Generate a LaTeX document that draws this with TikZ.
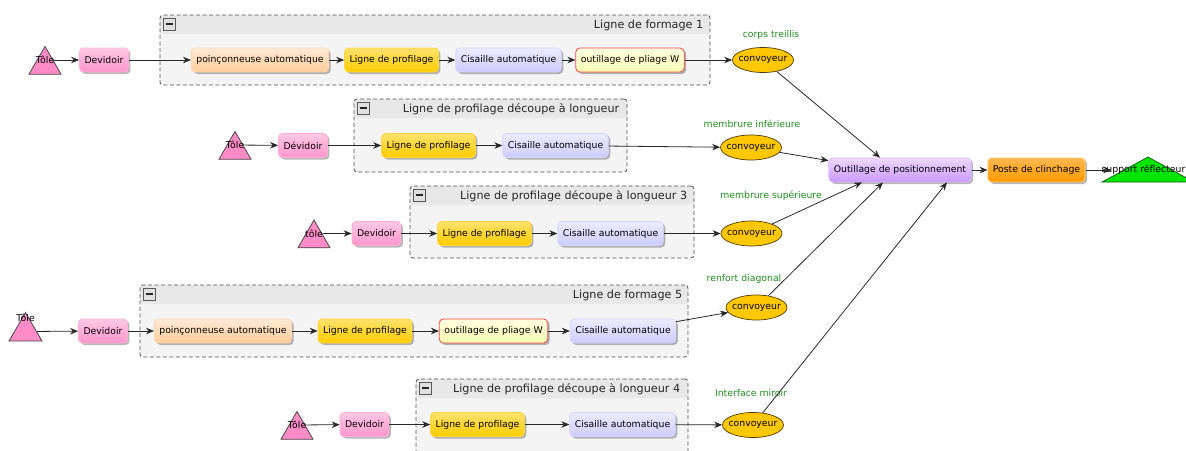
\documentclass[tikz,border=0pt]{standalone}
\usepackage{fontspec}
\setmainfont{DejaVu Sans}
\usetikzlibrary{shapes.geometric,arrows.meta,shadows}

\definecolor{edgec}{RGB}{40,40,40}
\definecolor{pinkT}{RGB}{255,200,228}
\definecolor{pinkF}{RGB}{255,150,204}
\definecolor{pinkB}{RGB}{255,176,214}
\definecolor{peachT}{RGB}{255,234,214}
\definecolor{peachF}{RGB}{255,204,153}
\definecolor{peachB}{RGB}{255,214,178}
\definecolor{goldT}{RGB}{255,226,110}
\definecolor{goldF}{RGB}{255,204,0}
\definecolor{goldB}{RGB}{255,214,60}
\definecolor{lavT}{RGB}{236,236,255}
\definecolor{lavF}{RGB}{204,204,255}
\definecolor{lavB}{RGB}{212,212,255}
\definecolor{wT}{RGB}{255,255,225}
\definecolor{wF}{RGB}{255,255,180}
\definecolor{wB}{RGB}{250,70,70}
\definecolor{purT}{RGB}{236,216,255}
\definecolor{purF}{RGB}{204,153,255}
\definecolor{purB}{RGB}{216,184,255}
\definecolor{orT}{RGB}{255,184,80}
\definecolor{orF}{RGB}{255,153,0}
\definecolor{orB}{RGB}{255,196,100}
\definecolor{convF}{RGB}{255,200,0}
\definecolor{convB}{RGB}{80,60,10}
\definecolor{triF}{RGB}{255,140,198}
\definecolor{triB}{RGB}{70,70,70}
\definecolor{supF}{RGB}{0,230,0}
\definecolor{supB}{RGB}{20,90,20}
\definecolor{grpF}{RGB}{244,244,244}
\definecolor{grpH}{RGB}{232,232,232}
\definecolor{grpB}{RGB}{80,80,80}
\definecolor{labgreen}{RGB}{30,140,30}

\tikzset{
  txt/.style={font=\fontsize{9.3}{11}\selectfont},
  base/.style={txt, rounded corners=4pt, minimum height=24pt, inner xsep=5pt, inner ysep=2pt,
    line width=0.8pt, drop shadow={shadow xshift=2pt, shadow yshift=-2pt, opacity=0.28, fill=black}},
  pinkbox/.style={base, draw=pinkB, top color=pinkT, bottom color=pinkF},
  peachbox/.style={base, draw=peachB, top color=peachT, bottom color=peachF},
  goldbox/.style={base, draw=goldB, top color=goldT, bottom color=goldF},
  lavbox/.style={base, draw=lavB, top color=lavT, bottom color=lavF},
  wbox/.style={base, draw=wB, top color=wT, bottom color=wF},
  purbox/.style={base, draw=purB, top color=purT, bottom color=purF},
  orbox/.style={base, draw=orB, top color=orT, bottom color=orF},
  conv/.style={txt, ellipse, draw=convB, fill=convF, line width=0.7pt, minimum width=61pt, minimum height=25pt, inner sep=0pt},
  tri/.style={regular polygon, regular polygon sides=3, minimum size=37pt, inner sep=0pt, draw=triB, fill=triF, line width=0.8pt},
  tlab/.style={txt, inner sep=0pt, yshift=5pt},
  glab/.style={txt, text=labgreen, inner sep=0pt},
  group/.style={draw=grpB, dash pattern=on 4pt off 2.5pt, fill=grpF, rounded corners=3pt, line width=0.8pt, inner sep=0pt,
    path picture={\fill[grpH] (path picture bounding box.north west) rectangle ([yshift=-19pt]path picture bounding box.north east);}},
  minusbox/.style={draw=black!65, fill=black!12, minimum size=12pt, inner sep=0pt, line width=0.7pt,
    path picture={\draw[line width=1.6pt, black!85] ([xshift=-3.5pt]path picture bounding box.center) -- ([xshift=3.5pt]path picture bounding box.center);}},
  gtitle/.style={font=\fontsize{11.2}{13}\selectfont, inner sep=0pt, text=black!85, anchor=east},
  arr/.style={draw=edgec, line width=0.8pt, -{Stealth[length=8pt,width=6.5pt]}},
}

\begin{document}
\begin{tikzpicture}[x=1pt,y=-1pt]
\useasboundingbox (0,0) rectangle (1186,450);
\clip (0,0) rectangle (1186,450);

% ---------- groups ----------
\node[group, minimum width=550pt, minimum height=70pt] (g1) at (435,50) {};
\node[minusbox] (m1) at ([xshift=9.5pt,yshift=-9.5pt]g1.north west) {};
\node[gtitle] (g1t) at ([xshift=-7pt,yshift=-10.5pt]g1.north east) {Ligne de formage 1};

\node[group, minimum width=273pt, minimum height=73pt] (g2) at (490.5,135.5) {};
\node[minusbox] (m2) at ([xshift=9.5pt,yshift=-9.5pt]g2.north west) {};
\node[gtitle] (g2t) at ([xshift=-8pt,yshift=-11pt]g2.north east) {Ligne de profilage découpe à longueur};

\node[group, minimum width=284pt, minimum height=72pt] (g3) at (552,222) {};
\node[minusbox] (m3) at ([xshift=9.5pt,yshift=-9.5pt]g3.north west) {};
\node[gtitle] (g3t) at ([xshift=-7pt,yshift=-10.5pt]g3.north east) {Ligne de profilage découpe à longueur 3};

\node[group, minimum width=548pt, minimum height=72pt] (g4) at (414,321) {};
\node[minusbox] (m4) at ([xshift=9.5pt,yshift=-9.5pt]g4.north west) {};
\node[gtitle] (g4t) at ([xshift=-6pt,yshift=-10.5pt]g4.north east) {Ligne de formage 5};

\node[group, minimum width=272pt, minimum height=80pt] (g5) at (552,419) {};
\node[minusbox] (m5) at ([xshift=9.5pt,yshift=-9.5pt]g5.north west) {};
\node[gtitle] (g5t) at ([xshift=-8pt,yshift=-10.5pt]g5.north east) {Ligne de profilage découpe à longueur 4};

% ---------- row 1 ----------
\node[tri, label={[tlab,name=t1l]center:Tôle}] (t1) at (45,65) {};
\node[pinkbox] (d1) at (104,60) {Devidoir};
\node[peachbox] (p1) at (260,60) {poinçonneuse automatique};
\node[goldbox] (l1) at (391.5,60) {Ligne de profilage};
\node[lavbox] (c1) at (508.5,60) {Cisaille automatique};
\node[wbox] (o1) at (630,60) {outillage de pliage W};
\node[conv] (v1) at (763,60) {\makebox[0pt]{convoyeur}};
\node[glab] (n1) at (771,35) {corps treillis};

% ---------- row 2 ----------
\node[tri, label={[tlab,name=t2l]center:Tôle}] (t2) at (235,150) {};
\node[pinkbox] (d2) at (303,145.5) {Dévidoir};
\node[goldbox] (l2) at (428.5,145.5) {Ligne de profilage};
\node[lavbox] (c2) at (555.5,145.5) {Cisaille automatique};
\node[conv] (v2) at (751,147.5) {\makebox[0pt]{convoyeur}};
\node[glab] (n2) at (752,124) {membrure inférieure};

% ---------- row 3 ----------
\node[tri, label={[tlab,name=t3l]center:tôle}] (t3) at (314,238.5) {};
\node[pinkbox] (d3) at (376.5,233.5) {Devidoir};
\node[goldbox] (l3) at (484.5,233.5) {Ligne de profilage};
\node[lavbox] (c3) at (610.5,233.5) {Cisaille automatique};
\node[conv] (v3) at (751.5,233.5) {\makebox[0pt]{convoyeur}};
\node[glab] (n3) at (771,196) {membrure supérieure};

% ---------- row 4 ----------
\node[tri, minimum size=38pt, label={[txt,inner sep=0pt,yshift=13.5pt,name=t4l]center:Tôle}] (t4) at (25.5,331.5) {};
\node[pinkbox] (d4) at (103,331) {Devidoir};
\node[peachbox] (p4) at (223,331) {poinçonneuse automatique};
\node[goldbox] (l4) at (365,331) {Ligne de profilage};
\node[wbox] (o4) at (493.5,331) {outillage de pliage W};
\node[lavbox] (c4) at (623,331) {Cisaille automatique};
\node[conv] (v4) at (756.5,307.5) {\makebox[0pt]{convoyeur}};
\node[glab] (n4) at (744,279) {renfort diagonal};

% ---------- row 5 ----------
\node[tri, label={[tlab,name=t5l]center:Tôle}] (t5) at (297,430) {};
\node[pinkbox] (d5) at (364.5,424.5) {Devidoir};
\node[goldbox] (l5) at (477.5,424.5) {Ligne de profilage};
\node[lavbox] (c5) at (622.5,424.5) {Cisaille automatique};
\node[conv] (v5) at (753,425) {\makebox[0pt]{convoyeur}};
\node[glab] (n5) at (751,393) {Interface miroir};

% ---------- assembly ----------
\node[purbox] (pos) at (900,170) {Outillage de positionnement};
\node[orbox] (poste) at (1036.5,170) {Poste de clinchage};
\coordinate (supc) at (1148,170);
\draw[fill=supF, draw=supB, line width=0.7pt] ([xshift=-46pt,yshift=-12pt]supc) -- ([yshift=13pt]supc) -- ([xshift=46pt,yshift=-12pt]supc) -- cycle;
\node[txt, inner sep=0pt] (sup) at ([xshift=-4.5pt]supc) {support réflecteur};

% ---------- connectors ----------
\draw[arr] (t1l) -- (d1);
\draw[arr] (d1) -- (p1);
\draw[arr] (p1) -- (l1);
\draw[arr] (l1) -- (c1);
\draw[arr] (c1) -- (o1);
\draw[arr] (o1) -- (v1);

\draw[arr] (t2l) -- (d2);
\draw[arr] (d2) -- (l2);
\draw[arr] (l2) -- (c2);
\draw[arr] (c2) -- (v2);

\draw[arr] (t3l) -- (d3);
\draw[arr] (d3) -- (l3);
\draw[arr] (l3) -- (c3);
\draw[arr] (c3) -- (v3);

\draw[arr] (t4) -- (d4);
\draw[arr] (d4) -- (p4);
\draw[arr] (p4) -- (l4);
\draw[arr] (l4) -- (o4);
\draw[arr] (o4) -- (c4);
\draw[arr] (c4) -- (v4);

\draw[arr] (t5l) -- (d5);
\draw[arr] (d5) -- (l5);
\draw[arr] (l5) -- (c5);
\draw[arr] (c5) -- (v5);

\draw[arr] (v1) -- ([xshift=-20pt]pos.north);
\draw[arr] (v2) -- ([yshift=-3pt]pos.north west);
\draw[arr] (v3) -- ([xshift=-38pt]pos.south);
\draw[arr] (v4) -- ([xshift=-17pt]pos.south);
\draw[arr] (v5) -- ([xshift=47pt]pos.south);
\draw[arr] (pos) -- (poste);
\draw[arr, shorten >=-10pt] (poste) -- (sup);
\end{tikzpicture}
\end{document}
